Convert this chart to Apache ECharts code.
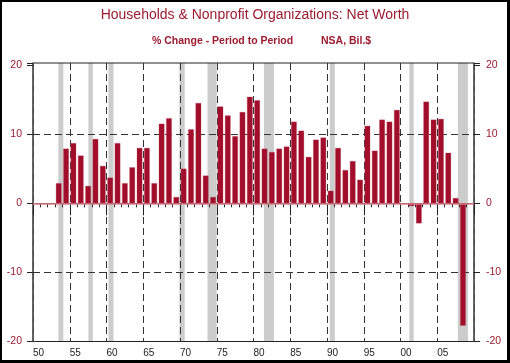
<!DOCTYPE html>
<html>
<head>
<meta charset="utf-8">
<script src="https://cdn.jsdelivr.net/npm/echarts@6/dist/echarts.min.js"></script>
<style>
  html, body { margin: 0; padding: 0; background: #fff; }
  #wrap { position: relative; width: 510px; height: 363px; }
  #chart { position: absolute; left: 0; top: 0; width: 510px; height: 363px; }
  #frame { position: absolute; left: 0; top: 0; width: 510px; height: 363px; box-sizing: border-box;
           border-left: 2px solid #000; border-top: 2px solid #000; border-right: 3px solid #000; border-bottom: 3px solid #000;
           pointer-events: none; }
</style>
</head>
<body>
<div id="wrap"><div id="chart"></div><div id="frame"></div></div>
<script>
// ---- data ----
const years = [1953,1954,1955,1956,1957,1958,1959,1960,1961,1962,1963,1964,1965,1966,1967,1968,1969,1970,
  1971,1972,1973,1974,1975,1976,1977,1978,1979,1980,1981,1982,1983,1984,1985,1986,1987,1988,1989,1990,
  1991,1992,1993,1994,1995,1996,1997,1998,1999,2000,2001,2002,2003,2004,2005,2006,2007,2008];
const netWorthChange = [2.9,7.9,8.7,6.9,2.5,9.3,5.4,3.7,8.7,2.9,5.2,8.0,8.0,2.9,11.5,12.3,0.9,5.0,
  10.7,14.5,4.0,0.9,14.0,12.7,9.7,13.2,15.4,14.9,7.9,7.4,7.9,8.2,11.8,10.5,6.7,9.2,9.5,1.8,
  8.0,4.8,6.1,3.4,11.2,7.6,12.1,11.8,13.5,-0.1,-0.4,-2.9,14.7,12.1,12.2,7.3,0.75,-17.7];
const recessionStart = [1953.45,1957.54,1960.27,1969.92,1973.74,1981.42,1990.38,2001.2,2007.8];
const recessionEnd   = [1954.13,1958.14,1960.95,1970.64,1975.0,1982.78,1991.06,2001.8,2009.17];
const yGridLines = [10, -10];
const xStart = 1950, xEnd = 2010;
const yMin = -20, yMax = 20.3;

const titleText = 'Households & Nonprofit Organizations: Net Worth';
const subLeft = '% Change - Period to Period';
const subRight = 'NSA, Bil.$';

// ---- build ----
const categories = [];
for (let y = xStart; y < xEnd; y++) categories.push(String(y));
const barData = categories.map(c => {
  const i = years.indexOf(Number(c));
  return i >= 0 ? netWorthChange[i] : null;
});
const bands = recessionStart.map((s, i) => [s, recessionEnd[i]]);

const red = '#9b1b30';
const font = '"Liberation Sans", Arial, sans-serif';
const dash = [7, 4];
const yLabel = v => (Math.abs(v % 10) < 1e-9 ? String(v) : '');
const chart = echarts.init(document.getElementById('chart'));
chart.setOption({
  animation: false,
  title: [
    { text: titleText, left: 'center', top: 3, textStyle: { fontFamily: font, fontSize: 14, fontWeight: 'normal', color: red } },
    { text: subLeft, left: 147, top: 31, textStyle: { fontFamily: font, fontSize: 10.5, fontWeight: 'bold', color: red } },
    { text: subRight, left: 316, top: 31, textStyle: { fontFamily: font, fontSize: 10.5, fontWeight: 'bold', color: red } }
  ],
  grid: { left: 33, right: 36, top: 63, bottom: 21.5, show: true, borderColor: '#222', borderWidth: 1, backgroundColor: 'transparent' },
  xAxis: [
    { type: 'category', data: categories, boundaryGap: true, show: false },
    { type: 'value', min: xStart, max: xEnd, interval: 5, position: 'bottom',
      axisLine: { show: true, lineStyle: { color: '#444', width: 1 } },
      axisTick: { show: true, length: 12, lineStyle: { color: '#222' } },
      minorTick: { show: true, splitNumber: 5, length: 4, lineStyle: { color: '#222' } },
      axisLabel: { fontFamily: font, fontSize: 10, color: '#222', align: 'left', margin: 7,
        formatter: v => v >= xEnd ? '' : String(v % 100).padStart(2, '0') },
      splitLine: { show: true, lineStyle: { color: '#333', type: dash, width: 1 } }
    }
  ],
  yAxis: [
    { type: 'value', min: yMin, max: yMax, interval: 10, position: 'left',
      axisLine: { show: true, lineStyle: { color: '#555', width: 1.5 } },
      axisTick: { show: true, length: 6, lineStyle: { color: '#222' } },
      axisLabel: { fontFamily: font, fontSize: 10.5, color: red, margin: 11, formatter: yLabel },
      splitLine: { show: false }
    },
    { type: 'value', min: yMin, max: yMax, interval: 10, position: 'right',
      axisLine: { show: true, lineStyle: { color: '#555', width: 1.5 } },
      axisTick: { show: true, length: 6, lineStyle: { color: '#222' } },
      axisLabel: { fontFamily: font, fontSize: 10.5, color: red, margin: 12, formatter: yLabel },
      splitLine: { show: false }
    }
  ],
  series: [
    { type: 'custom', xAxisIndex: 1, yAxisIndex: 0, z: -1, silent: true,
      data: bands,
      renderItem: (params, api) => {
        const p0 = api.coord([api.value(0), yMax]);
        const p1 = api.coord([api.value(1), yMin]);
        return { type: 'rect', shape: { x: p0[0], y: p0[1], width: p1[0] - p0[0], height: p1[1] - p0[1] },
                 style: { fill: '#cccccc' } };
      },
      markLine: { silent: true, z: 1, symbol: 'none', label: { show: false },
        lineStyle: { color: '#333', width: 1, type: dash },
        data: yGridLines.map(v => ({ yAxis: v })) }
    },
    { type: 'bar', xAxisIndex: 0, yAxisIndex: 0, data: barData, barWidth: 5.5,
      itemStyle: { color: '#a30d2c', borderColor: '#b8404f', borderWidth: 0.3 },
      markLine: { silent: true, z: 5, symbol: 'none', label: { show: false },
        lineStyle: { color: '#dd7d89', width: 1.5, type: 'solid' },
        data: [{ yAxis: 0 }] }
    }
  ]
});
</script>
</body>
</html>
